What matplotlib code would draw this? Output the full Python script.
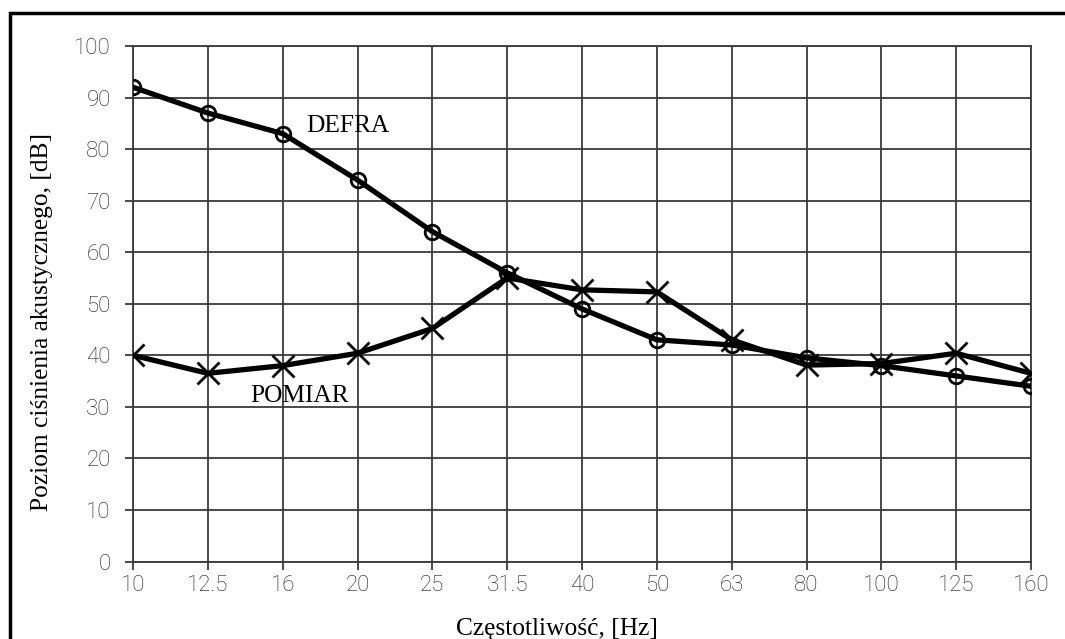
import matplotlib
matplotlib.use("Agg")
import matplotlib.pyplot as plt
from matplotlib.patches import Rectangle

freqs = ["10", "12.5", "16", "20", "25", "31.5", "40", "50", "63", "80", "100", "125", "160"]
defra = [92, 87, 83, 74, 64, 56, 49, 43, 42, 39.5, 38, 36, 34]
pomiar = [40, 36.5, 38, 40.4, 45.2, 55, 52.7, 52.3, 43, 38.1, 38.4, 40.4, 36.5]
yticks = [0, 10, 20, 30, 40, 50, 60, 70, 80, 90, 100]

W, H = 1065, 639
fig = plt.figure(figsize=(W / 100, H / 100), dpi=100)
ax = fig.add_axes([133 / W, 1 - 561.5 / H, (1031 - 133) / W, (561.5 - 46) / H])

x = list(range(len(freqs)))
ax.plot(x, defra, color="black", lw=3.8, marker="o", ms=10.5, mfc="none", mew=2, zorder=3)
ax.plot(x, pomiar, color="black", lw=3.8, marker="x", ms=16, mew=2, zorder=3)

ax.set_xlim(0, len(freqs) - 1)
ax.set_ylim(0, 100)
ax.set_xticks(x)
ax.set_xticklabels(freqs)
ax.set_yticks(yticks)
ax.grid(True, color="#3a3a3a", lw=1.3)
for s in ax.spines.values():
    s.set_color("#3a3a3a")
    s.set_linewidth(1.3)
ax.tick_params(direction="out", length=6, width=1.3, color="#3a3a3a",
               labelsize=16, labelcolor="#1a1a1a")
ax.tick_params(axis="x", pad=4)
ax.tick_params(axis="y", pad=10)
for lab in ax.get_xticklabels() + ax.get_yticklabels():
    lab.set_family("Roboto")
    lab.set_fontweight("light")

serif = "Liberation Serif"
ax.text(2.87, 84.5, "DEFRA", family=serif, fontsize=18.3, ha="center", va="center")
ax.text(2.23, 32.1, "POMIAR", family=serif, fontsize=18.3, ha="center", va="center")

fig.text(557 / W, 1 - 635 / H, "Częstotliwość, [Hz]", family=serif, fontsize=18.3,
         ha="center", va="baseline")
fig.text(41.7 / W, 1 - 322 / H, "Poziom ciśnienia akustycznego, [dB]", family=serif,
         fontsize=18.3, ha="center", va="center", rotation=90)

fig.patches.append(Rectangle((10 / W, -0.01), 1.02, 1 - 13 / H + 0.01,
                             transform=fig.transFigure, fill=False,
                             edgecolor="black", lw=2.5))

fig.savefig("out.png", dpi=100)
